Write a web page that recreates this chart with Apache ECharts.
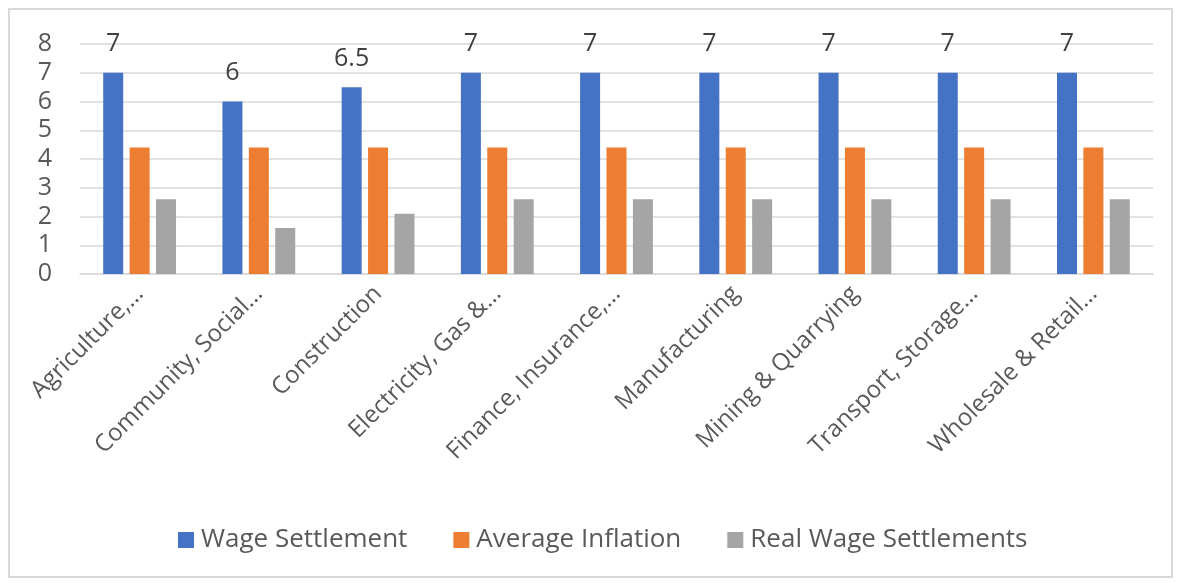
<!DOCTYPE html>
<html>
<head>
<meta charset="utf-8">
<script src="https://cdn.jsdelivr.net/npm/echarts@6/dist/echarts.min.js"></script>
<style>
html,body{margin:0;padding:0;background:#fff;}
#wrap{position:absolute;left:8px;top:8px;width:1165px;height:570px;border:2px solid #d9d9d9;box-sizing:border-box;}
#chart{position:absolute;left:0;top:0;width:1181px;height:583px;}
</style>
</head>
<body>
<div id="wrap"></div>
<div id="chart"></div>
<script>
const categories = ["Agriculture,…","Community, Social…","Construction","Electricity, Gas &…","Finance, Insurance,…","Manufacturing","Mining & Quarrying","Transport, Storage…","Wholesale & Retail…"];
const wageSettlement = [7, 6, 6.5, 7, 7, 7, 7, 7, 7];
const averageInflation = [4.4, 4.4, 4.4, 4.4, 4.4, 4.4, 4.4, 4.4, 4.4];
const realWage = [2.6, 1.6, 2.1, 2.6, 2.6, 2.6, 2.6, 2.6, 2.6];
const yTicks = [0,1,2,3,4,5,6,7,8];

const font = "'Open Sans', sans-serif";
const chart = echarts.init(document.getElementById('chart'));
chart.setOption({
  animation:false,
  textStyle:{fontFamily:font},
  grid:{left:80,right:28,top:44,bottom:309},
  legend:{
    top:522,left:173,itemWidth:16,itemHeight:16,itemGap:46,
    icon:'rect',
    textStyle:{fontSize:26,color:'#595959',fontFamily:font,padding:[0,0,0,2]},
    data:['Wage Settlement','Average Inflation','Real Wage Settlements']
  },
  xAxis:{
    type:'category',data:categories,
    axisLine:{lineStyle:{color:'#d9d9d9',width:1.5}},
    axisTick:{show:false},
    axisLabel:{rotate:45,fontSize:24,color:'#595959',margin:16,interval:0,fontFamily:font}
  },
  yAxis:{
    type:'value',min:0,max:8,interval:1,
    axisLine:{show:false},axisTick:{show:false},
    splitLine:{lineStyle:{color:'#d9d9d9',width:1.5}},
    axisLabel:{fontSize:25,color:'#595959',margin:28,fontFamily:font,
      formatter:v=>yTicks.includes(v)?String(v):''}
  },
  series:[
    {name:'Wage Settlement',type:'bar',data:wageSettlement,itemStyle:{color:'#4472c4'},
     barWidth:20,barGap:'32%',barCategoryGap:'38%',
     label:{show:true,position:'top',distance:16,fontSize:25,color:'#404040',fontFamily:font}},
    {name:'Average Inflation',type:'bar',data:averageInflation,itemStyle:{color:'#ed7d31'},barWidth:20},
    {name:'Real Wage Settlements',type:'bar',data:realWage,itemStyle:{color:'#a5a5a5'},barWidth:20}
  ]
});
</script>
</body>
</html>
